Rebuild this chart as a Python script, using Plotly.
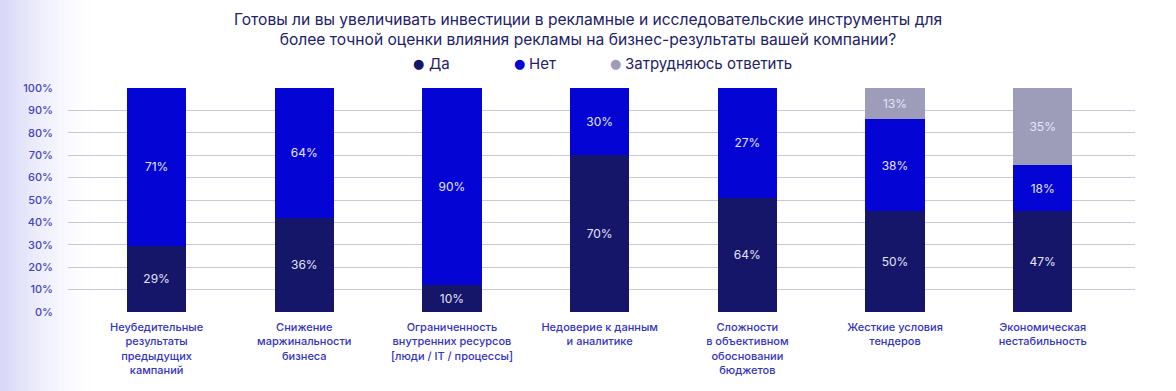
import plotly.graph_objects as go

categories = [
    "Неубедительные<br>результаты<br>предыдущих<br>кампаний",
    "Снижение<br>маржинальности<br>бизнеса",
    "Ограниченность<br>внутренних ресурсов<br>[люди / IT / процессы]",
    "Недоверие к данным<br>и аналитике",
    "Сложности<br>в объективном<br>обосновании<br>бюджетов",
    "Жесткие условия<br>тендеров",
    "Экономическая<br>нестабильность",
]

# Segment heights as drawn
da_height = [29.5, 42, 12, 70, 51, 45, 45]
net_height = [70.5, 58, 88, 30, 49, 41, 20.5]
hard_height = [0, 0, 0, 0, 0, 14, 34.5]

# Printed labels
da_labels = ["29%", "36%", "10%", "70%", "64%", "50%", "47%"]
net_labels = ["71%", "64%", "90%", "30%", "27%", "38%", "18%"]
hard_labels = ["", "", "", "", "", "13%", "35%"]

series_names = ["Да", "Нет", "Затрудняюсь ответить"]
colors = ["#15156a", "#0404d4", "#9d9dba"]

y_ticks = [0, 10, 20, 30, 40, 50, 60, 70, 80, 90, 100]

FONT = "Inter"
W, H = 1176, 391
ML, MR, MT, MB = 68, 41, 88, 79
PW, PH = W - ML - MR, H - MT - MB
x = list(range(len(categories)))


def px_x(p):
    return (p - ML) / PW


def px_y(p):
    return 1 + (MT - p) / PH


fig = go.Figure()

# background gradient (left edge lavender)
n_steps = 24
for i in range(n_steps):
    fig.add_shape(
        type="rect", xref="paper", yref="paper", layer="below",
        x0=px_x(i * 95 / n_steps), x1=px_x((i + 1) * 95 / n_steps),
        y0=px_y(H), y1=px_y(0),
        fillcolor="#c9c9f4", opacity=0.75 * (1 - i / n_steps) ** 1.6,
        line_width=0,
    )

for heights, labels, name, color in zip(
    [da_height, net_height, hard_height],
    [da_labels, net_labels, hard_labels],
    series_names, colors,
):
    fig.add_trace(go.Bar(
        x=x, y=heights, name=name, marker_color=color,
        marker_line_width=0,
        text=labels, textposition="inside", insidetextanchor="middle",
        textangle=0,
        textfont=dict(family=FONT, size=12, color="#e4e4fa"),
        showlegend=False, width=0.4,
    ))

# legend drawn as annotations (marker dot + label)
legend_marker_px = [418.5, 519, 615]
for name, color, mx in zip(series_names, colors, legend_marker_px):
    fig.add_annotation(
        xref="paper", yref="paper", x=px_x(mx), y=px_y(63),
        xanchor="center", yanchor="middle", showarrow=False,
        text="●", font=dict(family="DejaVu Sans", size=13, color=color),
    )
    fig.add_annotation(
        xref="paper", yref="paper", x=px_x(mx + 8), y=px_y(63),
        xanchor="left", yanchor="middle", showarrow=False,
        text=name, font=dict(family=FONT, size=15, color="#22226a"),
    )

fig.update_layout(
    width=W, height=H,
    barmode="stack",
    showlegend=False,
    paper_bgcolor="white",
    plot_bgcolor="rgba(0,0,0,0)",
    margin=dict(l=ML, r=MR, t=MT, b=MB),
    uniformtext=dict(minsize=12, mode="show"),
    title=dict(
        text="Готовы ли вы увеличивать инвестиции в рекламные и исследовательские инструменты для<br>"
             "более точной оценки влияния рекламы на бизнес-результаты вашей компании?",
        x=0.5, xanchor="center", y=1 - 24.5 / H, yanchor="middle",
        font=dict(family=FONT, size=15.6, color="#22226a"),
    ),
    xaxis=dict(
        range=[-0.6, 6.625], tickmode="array", tickvals=x, ticktext=categories,
        tickfont=dict(family=FONT, size=11, color="#3333c4", weight=500),
        showgrid=False, zeroline=False, showline=False, ticks="",
        tickangle=0, ticklabelstandoff=7,
    ),
    yaxis=dict(
        range=[0, 100], tickmode="array", tickvals=y_ticks,
        ticktext=[f"{v}%" for v in y_ticks],
        tickfont=dict(family=FONT, size=11, color="#4444b4", weight=500),
        showgrid=True, gridcolor="#c8c8d6", gridwidth=1.2,
        zeroline=False, showline=False, ticks="",
        ticklabelstandoff=14,
    ),
    font=dict(family=FONT),
)

fig.write_html(
    "out.html",
    config={"displayModeBar": False},
    post_script="document.body.style.margin='0px';",
)
